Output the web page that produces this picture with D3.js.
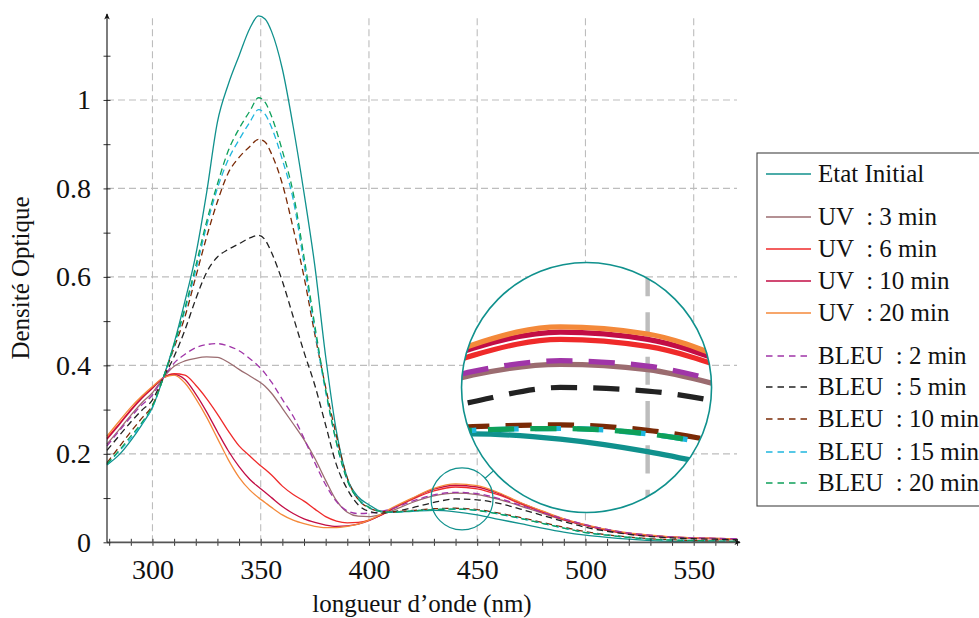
<!DOCTYPE html>
<html>
<head>
<meta charset="utf-8">
<script src="https://cdn.jsdelivr.net/npm/d3@7/dist/d3.min.js"></script>
<style>
  html, body { margin: 0; padding: 0; background: #fff; }
  svg { display: block; }
</style>
</head>
<body>
<svg id="chart" width="979" height="618"></svg>
<script>
// ---------- DATA ----------
const wavelengths = [279,285,290,295,300,305,310,315,320,325,330,335,340,345,349,352,355,360,365,370,375,380,385,390,395,400,405,410,420,430,440,450,460,470,480,490,500,510,520,530,540,550,560,570];

const etatInitial = [0.175,0.2,0.23,0.265,0.305,0.372,0.45,0.545,0.65,0.79,0.95,1.035,1.10,1.162,1.19,1.183,1.155,1.07,0.94,0.79,0.625,0.42,0.25,0.145,0.103,0.085,0.071,0.068,0.07,0.072,0.069,0.062,0.052,0.042,0.032,0.023,0.016,0.011,0.007,0.004,0.002,0.001,0.001,0.0];
const uv3  = [0.222,0.257,0.287,0.315,0.338,0.372,0.398,0.41,0.416,0.419,0.418,0.407,0.391,0.376,0.364,0.353,0.337,0.303,0.268,0.232,0.19,0.14,0.094,0.068,0.059,0.058,0.062,0.07,0.09,0.105,0.111,0.108,0.097,0.082,0.066,0.05,0.038,0.027,0.019,0.014,0.011,0.009,0.008,0.007];
const uv6  = [0.236,0.27,0.3,0.327,0.35,0.372,0.381,0.378,0.355,0.325,0.29,0.252,0.218,0.195,0.177,0.165,0.152,0.127,0.108,0.093,0.075,0.058,0.048,0.044,0.045,0.05,0.06,0.073,0.097,0.116,0.125,0.121,0.107,0.087,0.068,0.051,0.038,0.027,0.019,0.014,0.011,0.009,0.008,0.007];
const uv10 = [0.233,0.268,0.298,0.325,0.348,0.372,0.379,0.368,0.335,0.295,0.25,0.207,0.171,0.142,0.125,0.113,0.101,0.081,0.065,0.053,0.045,0.039,0.036,0.037,0.041,0.049,0.06,0.074,0.099,0.12,0.129,0.125,0.11,0.089,0.07,0.052,0.039,0.028,0.02,0.015,0.012,0.01,0.009,0.008];
const uv20 = [0.24,0.276,0.305,0.33,0.352,0.372,0.378,0.36,0.325,0.283,0.235,0.187,0.147,0.118,0.101,0.09,0.079,0.062,0.05,0.042,0.036,0.033,0.033,0.036,0.041,0.05,0.062,0.076,0.1,0.122,0.132,0.128,0.112,0.09,0.071,0.053,0.04,0.029,0.021,0.016,0.012,0.01,0.009,0.008];
const bleu2  = [0.218,0.254,0.283,0.31,0.333,0.372,0.405,0.425,0.44,0.447,0.449,0.444,0.433,0.415,0.398,0.382,0.362,0.323,0.285,0.235,0.18,0.13,0.092,0.071,0.065,0.066,0.069,0.075,0.093,0.107,0.113,0.11,0.099,0.084,0.068,0.053,0.04,0.029,0.021,0.016,0.012,0.01,0.009,0.008];
const bleu5  = [0.208,0.243,0.272,0.298,0.322,0.372,0.42,0.48,0.55,0.61,0.645,0.662,0.675,0.688,0.694,0.684,0.655,0.59,0.51,0.43,0.355,0.265,0.175,0.12,0.085,0.07,0.066,0.068,0.078,0.09,0.098,0.096,0.088,0.075,0.061,0.047,0.034,0.025,0.018,0.013,0.01,0.008,0.007,0.006];
const bleu10 = [0.18,0.218,0.25,0.28,0.31,0.372,0.44,0.51,0.6,0.69,0.77,0.835,0.87,0.895,0.911,0.905,0.878,0.81,0.71,0.6,0.47,0.35,0.24,0.145,0.097,0.078,0.07,0.069,0.072,0.076,0.077,0.074,0.066,0.056,0.045,0.034,0.024,0.017,0.012,0.008,0.006,0.004,0.003,0.003];
const bleu15 = [0.176,0.208,0.235,0.268,0.305,0.372,0.445,0.525,0.615,0.715,0.8,0.865,0.91,0.95,0.978,0.968,0.938,0.865,0.775,0.63,0.48,0.34,0.225,0.14,0.098,0.079,0.07,0.068,0.071,0.074,0.075,0.072,0.064,0.054,0.043,0.032,0.022,0.016,0.011,0.007,0.005,0.004,0.003,0.002];
const bleu20 = [0.177,0.21,0.24,0.27,0.308,0.372,0.447,0.53,0.625,0.725,0.81,0.885,0.935,0.975,1.005,0.995,0.963,0.885,0.79,0.645,0.49,0.345,0.225,0.14,0.098,0.079,0.07,0.068,0.071,0.074,0.075,0.072,0.064,0.054,0.043,0.032,0.022,0.016,0.011,0.007,0.005,0.004,0.003,0.002];

const seriesNames = ["Etat Initial","UV  : 3 min","UV  : 6 min","UV  : 10 min","UV  : 20 min","BLEU  : 2 min","BLEU  : 5 min","BLEU  : 10 min","BLEU  : 15 min","BLEU  : 20 min"];
const seriesValues = [etatInitial, uv3, uv6, uv10, uv20, bleu2, bleu5, bleu10, bleu15, bleu20];
const seriesColors = ["#10918d","#9b6c70","#ef2a2a","#c20d45","#f4893a","#a035a8","#222222","#7a2a06","#1fb6de","#0ea05a"];
const seriesDashed = [false,false,false,false,false,true,true,true,true,true];

const xMajorTicks = [300,350,400,450,500,550];
const xMinorTicks = d3.range(280, 571, 10);
const yMajorTicks = [0,0.2,0.4,0.6,0.8,1];
const yMinorTicks = d3.range(0, 1.15, 0.1);

const xLabel = "longueur d’onde (nm)";
const yLabel = "Densité Optique";

// inset (magnifier): source centre and target centre in data units
const insetSource = {x: 443, y: 0.098};
const insetTarget = {x: 500.5, y: 0.35};
const insetSmallR = 31, insetBigR = 125;

// ---------- LAYOUT ----------
const svg = d3.select("#chart");
const x = d3.scaleLinear().domain([279, 570]).range([107, 737]);
const y = d3.scaleLinear().domain([0, 1.19]).range([542.3, 15.9]);
const yTop = 15.9;

const textFont = "'Liberation Serif', 'Times New Roman', serif";

const series = seriesNames.map((n, i) => ({
  name: n, color: seriesColors[i], dashed: seriesDashed[i],
  pts: wavelengths.map((w, j) => [w, seriesValues[i][j]])
}));

const line = d3.line().x(d => x(d[0])).y(d => y(d[1])).curve(d3.curveMonotoneX);

const defs = svg.append("defs");
defs.append("marker").attr("id", "arrow").attr("viewBox", "0 0 10 10")
  .attr("refX", 8).attr("refY", 5).attr("markerWidth", 7).attr("markerHeight", 7)
  .attr("orient", "auto-start-reverse").attr("markerUnits", "userSpaceOnUse")
  .append("path").attr("d", "M0,1 L9,5 L0,9 L2.5,5 Z").attr("fill", "#111");

// grid
const grid = svg.append("g");
grid.selectAll("line.v").data(xMajorTicks).join("line")
  .attr("x1", d => x(d)).attr("x2", d => x(d))
  .attr("y1", y(0)).attr("y2", yTop)
  .attr("stroke", "#bdbdbd").attr("stroke-width", 1.1).attr("stroke-dasharray", "7,4");
grid.selectAll("line.h").data(yMajorTicks.filter(d => d > 0)).join("line")
  .attr("x1", x.range()[0]).attr("x2", x.range()[1])
  .attr("y1", d => y(d)).attr("y2", d => y(d))
  .attr("stroke", "#bdbdbd").attr("stroke-width", 1.1).attr("stroke-dasharray", "7,4");

function drawCurves(g, sw) {
  g.selectAll("path.curve").data(series).join("path")
    .attr("class", "curve")
    .attr("d", d => line(d.pts))
    .attr("fill", "none")
    .attr("stroke", d => d.color)
    .attr("stroke-width", sw)
    .attr("stroke-dasharray", d => d.dashed ? "6.5,4" : null);
}
const curvesG = svg.append("g");
drawCurves(curvesG, 1.3);

// axes
const xAxisMinor = d3.axisBottom(x).tickValues(xMinorTicks).tickSize(3).tickFormat("");
const gx = svg.append("g").attr("transform", `translate(0,${y(0)})`).call(xAxisMinor);
gx.select(".domain").remove();
gx.selectAll(".tick line").attr("y1", -3.5).attr("y2", 3.5).attr("stroke", "#333");
const xAxisMajor = d3.axisBottom(x).tickValues(xMajorTicks).tickSize(0).tickPadding(17).tickFormat(d3.format("d"));
const gx2 = svg.append("g").attr("transform", `translate(0,${y(0)})`).call(xAxisMajor);
gx2.select(".domain").remove();
gx2.selectAll("text").attr("font-family", textFont).attr("font-size", 28).attr("fill", "#111");
svg.append("line").attr("x1", x.range()[0]).attr("x2", x.range()[1] + 3)
  .attr("y1", y(0)).attr("y2", y(0)).attr("stroke", "#555").attr("stroke-width", 1.8)
  .attr("marker-end", "url(#arrow)");

const yAxisMinor = d3.axisLeft(y).tickValues(yMinorTicks).tickSize(3).tickFormat("");
const gy = svg.append("g").attr("transform", `translate(${x.range()[0]},0)`).call(yAxisMinor);
gy.select(".domain").remove();
gy.selectAll(".tick line").attr("x1", -3.5).attr("x2", 3.5).attr("stroke", "#333");
const yAxisMajor = d3.axisLeft(y).tickValues(yMajorTicks).tickSize(0).tickPadding(16)
  .tickFormat(d => d === 0 ? "0" : (d === 1 ? "1" : d3.format(".1f")(d)));
const gy2 = svg.append("g").attr("transform", `translate(${x.range()[0]},0)`).call(yAxisMajor);
gy2.select(".domain").remove();
gy2.selectAll("text").attr("font-family", textFont).attr("font-size", 28).attr("fill", "#111");
svg.append("line").attr("x1", x.range()[0]).attr("x2", x.range()[0])
  .attr("y1", y(0)).attr("y2", yTop - 2).attr("stroke", "#111").attr("stroke-width", 1.1)
  .attr("marker-end", "url(#arrow)");

// axis titles
svg.append("text").attr("x", 422).attr("y", 612).attr("text-anchor", "middle")
  .attr("font-family", textFont).attr("font-size", 25).attr("fill", "#111").text(xLabel);
svg.append("text").attr("transform", "translate(29,278) rotate(-90)").attr("text-anchor", "middle")
  .attr("font-family", textFont).attr("font-size", 25).attr("fill", "#111").text(yLabel);

// ---------- INSET ----------
const sx = x(insetSource.x), sy = y(insetSource.y);
const tx = x(insetTarget.x), ty = y(insetTarget.y);
const mag = insetBigR / insetSmallR;
defs.append("clipPath").attr("id", "insetClip")
  .append("circle").attr("cx", tx).attr("cy", ty).attr("r", insetBigR);
const dx = tx - sx, dy = ty - sy, dist = Math.hypot(dx, dy);
svg.append("line")
  .attr("x1", sx + dx / dist * insetSmallR).attr("y1", sy + dy / dist * insetSmallR)
  .attr("x2", tx - dx / dist * insetBigR).attr("y2", ty - dy / dist * insetBigR)
  .attr("stroke", "#10918d").attr("stroke-width", 1.2);
svg.append("circle").attr("cx", sx).attr("cy", sy).attr("r", insetSmallR)
  .attr("fill", "none").attr("stroke", "#10918d").attr("stroke-width", 1.2);
const inset = svg.append("g").attr("clip-path", "url(#insetClip)");
inset.append("circle").attr("cx", tx).attr("cy", ty).attr("r", insetBigR).attr("fill", "#fff");
const mg = inset.append("g").attr("transform", `translate(${tx},${ty}) scale(${mag}) translate(${-sx},${-sy})`);
mg.selectAll("line.v").data(xMajorTicks).join("line")
  .attr("x1", d => x(d)).attr("x2", d => x(d))
  .attr("y1", y(0)).attr("y2", yTop)
  .attr("stroke", "#bdbdbd").attr("stroke-width", 1.1).attr("stroke-dasharray", "7,4");
drawCurves(mg, 1.3);
svg.append("circle").attr("cx", tx).attr("cy", ty).attr("r", insetBigR)
  .attr("fill", "none").attr("stroke", "#10918d").attr("stroke-width", 1.6);

// ---------- LEGEND ----------
const legendRowsY = [174, 217, 249, 281, 313, 356, 387, 419, 452, 483];
const legend = svg.append("g");
legend.append("rect").attr("x", 757).attr("y", 153).attr("width", 260).attr("height", 353)
  .attr("fill", "#fff").attr("stroke", "#444").attr("stroke-width", 1.1);
const items = legend.selectAll("g.item").data(series).join("g")
  .attr("transform", (d, i) => `translate(0,${legendRowsY[i]})`);
items.append("line").attr("x1", 766).attr("x2", 811).attr("y1", 0).attr("y2", 0)
  .attr("stroke", d => d.color).attr("stroke-width", 1.3)
  .attr("stroke-dasharray", d => d.dashed ? "6.5,5" : null);
items.append("text").attr("x", 818).attr("y", 8)
  .attr("font-family", textFont).attr("font-size", 25).attr("fill", "#111")
  .style("white-space", "pre")
  .text(d => d.name);
</script>
</body>
</html>
